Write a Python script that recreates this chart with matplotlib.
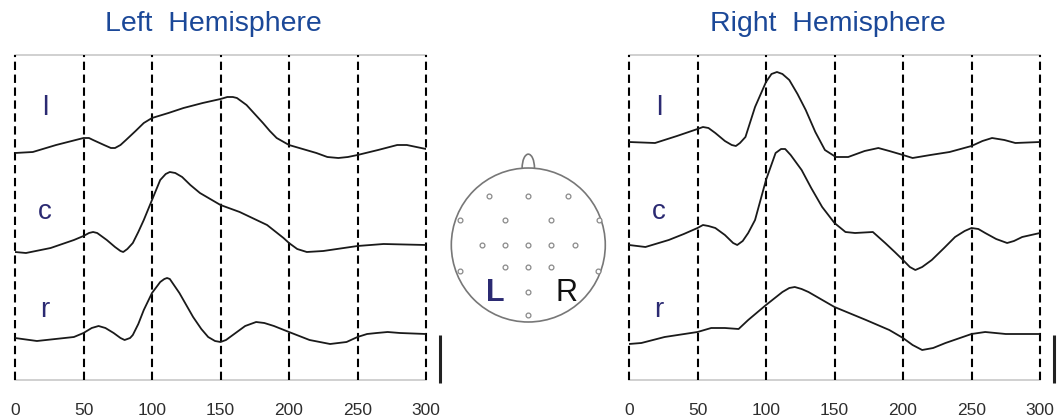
import matplotlib
matplotlib.use("Agg")
import matplotlib.pyplot as plt
from matplotlib.patches import Circle, Arc
import numpy as np

# time axis (ms) and row layout
ticks = [0, 50, 100, 150, 200, 250, 300]
rows = ["l", "c", "r"]
row_base = {"l": 230, "c": 135, "r": 42}   # baseline of each trace (axis units)
label_y = {"l": 272, "c": 168, "r": 70}

# ---- Left hemisphere traces (time ms, amplitude a.u.) ----
left_l_t = [0, 13, 30, 50, 54, 57, 65, 70, 73, 77, 81, 88, 94, 100, 112, 123, 137, 150, 155, 159, 162, 164, 169, 175, 181, 186, 191, 200, 210, 220, 228, 236, 243, 250, 265, 279, 286, 293, 300]
left_l_y = [-3, -2, 5, 12, 12, 10, 5, 2, 2, 5, 10, 19, 27, 32, 37, 42, 47, 51, 53, 53, 52, 50, 45, 36, 27, 19, 12, 5, 1, -3, -7, -8, -7, -5, 0, 5, 5, 3, 1]
left_c_t = [0, 8, 26, 43, 50, 54, 57, 60, 62, 67, 73, 77, 79, 82, 86, 90, 94, 100, 106, 110, 113, 117, 122, 128, 135, 150, 164, 184, 196, 200, 206, 213, 225, 250, 269, 300]
left_c_y = [-7, -8, -3, 5, 9, 12, 13, 12, 10, 5, -2, -6, -7, -4, 2, 13, 25, 45, 65, 71, 73, 72, 68, 60, 52, 40, 33, 20, 7, 2, -4, -7, -6, -1, 1, 0]
left_r_t = [0, 16, 43, 50, 56, 61, 66, 72, 77, 80, 84, 86, 90, 94, 100, 106, 109, 111, 113, 115, 120, 125, 130, 136, 141, 146, 150, 154, 159, 168, 176, 182, 189, 200, 215, 230, 242, 250, 257, 264, 272, 281, 300]
left_r_y = [0, -3, 1, 5, 10, 12, 10, 5, 0, -2, 0, 3, 14, 28, 45, 56, 59, 60, 59, 55, 45, 33, 21, 9, 1, -3, -4, -2, 3, 12, 16, 15, 12, 6, -2, -6, -4, 1, 4, 5, 6, 5, 4]

# ---- Right hemisphere traces ----
right_l_t = [0, 19, 35, 50, 54, 58, 63, 70, 75, 78, 81, 85, 92, 100, 104, 108, 112, 117, 123, 129, 136, 143, 151, 160, 172, 182, 190, 200, 207, 220, 234, 250, 258, 265, 274, 282, 300]
right_l_y = [8, 7, 14, 21, 23, 22, 17, 9, 5, 4, 7, 13, 43, 68, 76, 78, 76, 70, 56, 40, 18, 0, -7, -7, -1, 2, -1, -5, -8, -5, -2, 4, 9, 12, 10, 7, 8]
right_c_t = [0, 12, 29, 40, 50, 54, 58, 63, 70, 76, 79, 83, 87, 92, 100, 107, 111, 114, 118, 126, 133, 141, 150, 158, 165, 178, 187, 194, 200, 205, 209, 214, 221, 230, 238, 245, 250, 255, 260, 268, 276, 281, 287, 300]
right_c_y = [0, -2, 5, 11, 17, 20, 19, 17, 10, 2, 0, 4, 12, 25, 65, 92, 96, 96, 90, 75, 57, 38, 22, 13, 12, 13, 2, -7, -15, -22, -25, -22, -15, -3, 8, 14, 17, 16, 12, 6, 2, 4, 8, 12]
right_r_t = [0, 9, 26, 50, 60, 70, 80, 87, 100, 112, 117, 121, 126, 131, 150, 173, 190, 200, 207, 214, 222, 231, 250, 260, 275, 300]
right_r_y = [-6, -5, 1, 6, 10, 10, 9, 18, 33, 46, 50, 51, 49, 46, 31, 18, 8, 0, -7, -12, -10, -5, 4, 6, 4, 4]

panels = [
    ("Left  Hemisphere", {"l": (left_l_t, left_l_y), "c": (left_c_t, left_c_y), "r": (left_r_t, left_r_y)}),
    ("Right  Hemisphere", {"l": (right_l_t, right_l_y), "c": (right_c_t, right_c_y), "r": (right_r_t, right_r_y)}),
]

# electrode layout (head radius = 1)
elec_x = [-0.51, 0, 0.51, -0.89, -0.30, 0.30, 0.92, -0.60, -0.30, 0, 0.30, 0.61, -0.30, 0, 0.30, -0.89, 0.91, 0, 0]
elec_y = [0.64, 0.64, 0.64, 0.32, 0.32, 0.32, 0.32, 0, 0, 0, 0, 0, -0.29, -0.29, -0.29, -0.34, -0.34, -0.61, -0.91]

W, H = 1057, 419
fig = plt.figure(figsize=(W / 100, H / 100), dpi=100)

title_color = "#1b4898"
label_color = "#2b2a72"
sans = ["Liberation Sans", "DejaVu Sans"]

ax_lefts = [15, 629]
ax_width = 411
for (title, traces), x0 in zip(panels, ax_lefts):
    ax = fig.add_axes([x0 / W, 39 / H, ax_width / W, 325 / H])
    ax.set_xlim(0, 300)
    ax.set_ylim(0, 325)
    ax.axis("off")
    ax.axhline(325, color="#c8c8c8", lw=1.2, zorder=1, clip_on=False)
    ax.axhline(0, color="#c8c8c8", lw=1.2, zorder=1, clip_on=False)
    for t in ticks:
        ax.axvline(t, color="black", lw=1.5, linestyle=(0, (4, 2.2)), zorder=2, clip_on=False)
        ax.text(t, -30, str(t), ha="center", va="center", fontsize=12.5,
                color="#2e2e2e", family=sans)
    for name in rows:
        tt, yy = traces[name]
        ax.plot(tt, np.array(yy) + row_base[name], color="#1a1a1a", lw=1.3, zorder=3,
                solid_joinstyle="round")
        ax.text(22, label_y[name], name, fontsize=20, color=label_color, ha="center",
                va="center", family=sans)
    ax.text(145, 356, title, fontsize=20.5, color=title_color, ha="center", va="center",
            family=sans)
    # amplitude scale bar
    ax.plot([310.5, 310.5], [-3, 45], color="#222222", lw=2.2, clip_on=False,
            solid_capstyle="butt")

# head diagram
hx = fig.add_axes([438.3 / W, (H - 330) / H, 180 / W, 180 / H])
hx.set_xlim(-1.169, 1.169)
hx.set_ylim(-1.104, 1.234)
hx.set_aspect("equal")
hx.axis("off")
hx.add_patch(Circle((0, 0), 1.0, fill=False, ec="#777777", lw=1.2))
hx.add_patch(Arc((0, 1.0), 0.16, 0.36, theta1=0, theta2=180, ec="#777777", lw=1.2))
hx.scatter(elec_x, elec_y, s=12, facecolors="white", edgecolors="#8a8a8a", linewidths=0.9, zorder=3)
hx.text(-0.43, -0.62, "L", fontsize=22, fontweight="bold", color=label_color, ha="center",
        va="center", family=sans)
hx.text(0.49, -0.62, "R", fontsize=22, color="#111111", ha="center", va="center",
        family=sans)

fig.savefig("out.png", dpi=100)
